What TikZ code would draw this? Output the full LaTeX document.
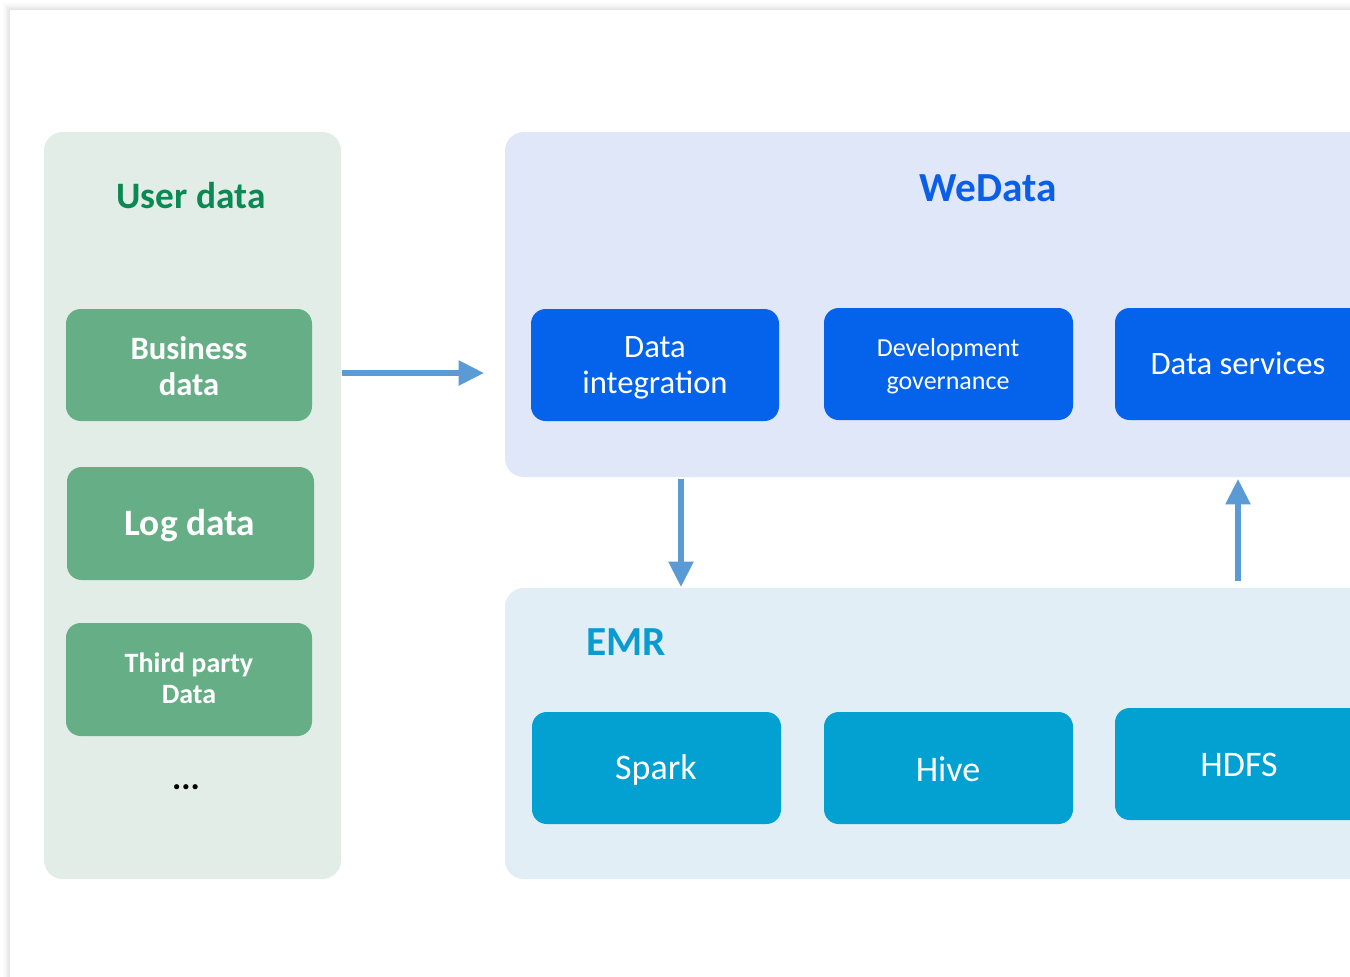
\documentclass[tikz,border=0pt]{standalone}
\usepackage{fontspec}
\setmainfont{Carlito}
\usetikzlibrary{arrows.meta}
\definecolor{shadowc}{HTML}{DADADA}
\definecolor{udbg}{HTML}{E2EDE7}
\definecolor{udtitle}{HTML}{0A8A52}
\definecolor{udbox}{HTML}{66AE86}
\definecolor{wdbg}{HTML}{DFE7F8}
\definecolor{wdtitle}{HTML}{0A5FE6}
\definecolor{wdbox}{HTML}{0562EA}
\definecolor{emrbg}{HTML}{E1EEF6}
\definecolor{emrtitle}{HTML}{0A9BD0}
\definecolor{emrbox}{HTML}{03A0D2}
\definecolor{arrowc}{HTML}{5B9BD5}
\tikzset{
  panel/.style={rounded corners=14pt, draw=none},
  udtile/.style={fill=udbox, rounded corners=11pt, text=white, font=\bfseries, align=center},
  wdtile/.style={fill=wdbox, rounded corners=11pt, text=white, align=center},
  emrtile/.style={fill=emrbox, rounded corners=11pt, text=white, align=center},
  flow/.style={draw=arrowc, line width=4pt, -{Triangle[length=19pt,width=18pt]}},
}
\begin{document}
\begin{tikzpicture}[x=0.75pt,y=-0.75pt]
\useasboundingbox (0,0) rectangle (1350,976);
\begin{scope}
\clip (0,0) rectangle (1350,976);
% card shadow
\foreach \i/\o in {1/0.10,2/0.16,3/0.22,4/0.30,5/0.40,6/0.52,7/0.65,8/0.8} {
  \fill[shadowc, opacity=\o*0.35] (10-9+\i,10-9+\i) rectangle (1400,1000);
}
\fill[white] (10,10) rectangle (1400,1000);
% panels
\fill[udbg, panel] (44,132) rectangle (341,879);
\fill[wdbg, panel] (505,132) rectangle (1420,477);
\fill[emrbg, panel] (505,588) rectangle (1420,879);
% titles
\node[text=udtitle, font=\fontsize{28}{32}\selectfont\bfseries] (udt) at (191,196) {User data};
\node[text=wdtitle, font=\fontsize{31}{35}\selectfont\bfseries] (wdt) at (988,188) {WeData};
\node[text=emrtitle, font=\fontsize{31}{35}\selectfont\bfseries] (emrt) at (626,642) {EMR};
% user data tiles
\fill[udtile] (66,309) rectangle (312,421);
\node[udtile, fill=none, font=\fontsize{24.5}{27}\selectfont\bfseries] (bd) at (189,366) {Business\\data};
\fill[udtile] (67,467) rectangle (314,580);
\node[udtile, fill=none, font=\fontsize{28}{30}\selectfont\bfseries] (ld) at (190,526) {Log data};
\fill[udtile] (66,623) rectangle (312,736);
\node[udtile, fill=none, font=\fontsize{21}{23}\selectfont\bfseries] (td) at (189,678) {Third party\\Data};
\node[font=\fontsize{26}{28}\selectfont\bfseries] (dots) at (186,787) {...};
% wedata tiles
\fill[wdtile] (531,309) rectangle (779,421);
\node[wdtile, fill=none, font=\fontsize{24.5}{27}\selectfont] (di) at (655,368) {Data\\integration};
\fill[wdtile] (824,308) rectangle (1073,420);
\node[wdtile, fill=none, font=\fontsize{19.5}{25}\selectfont] (dg) at (948,366) {Development\\governance};
\fill[wdtile] (1115,308) rectangle (1420,420);
\node[wdtile, fill=none, font=\fontsize{24.5}{27}\selectfont] (ds) at (1238,363) {Data services};
% emr tiles
\fill[emrtile] (532,712) rectangle (781,824);
\node[emrtile, fill=none, font=\fontsize{27}{30}\selectfont] (sp) at (656,770) {Spark};
\fill[emrtile] (824,712) rectangle (1073,824);
\node[emrtile, fill=none, font=\fontsize{27}{30}\selectfont] (hv) at (948,769) {Hive};
\fill[emrtile] (1115,708) rectangle (1420,820);
\node[emrtile, fill=none, font=\fontsize{27}{30}\selectfont] (hd) at (1239,765) {HDFS};
% arrow endpoints
\coordinate (a1s) at (342,373);
\coordinate (a1e) at (484,373);
\coordinate (a2s) at (681,479);
\coordinate (a2e) at (681,587);
\coordinate (a3s) at (1238,581);
\coordinate (a3e) at (1238,479);
\draw[flow] (a1s) -- (a1e);
\draw[flow] (a2s) -- (a2e);
\draw[flow] (a3s) -- (a3e);
\end{scope}
\end{tikzpicture}
\end{document}
